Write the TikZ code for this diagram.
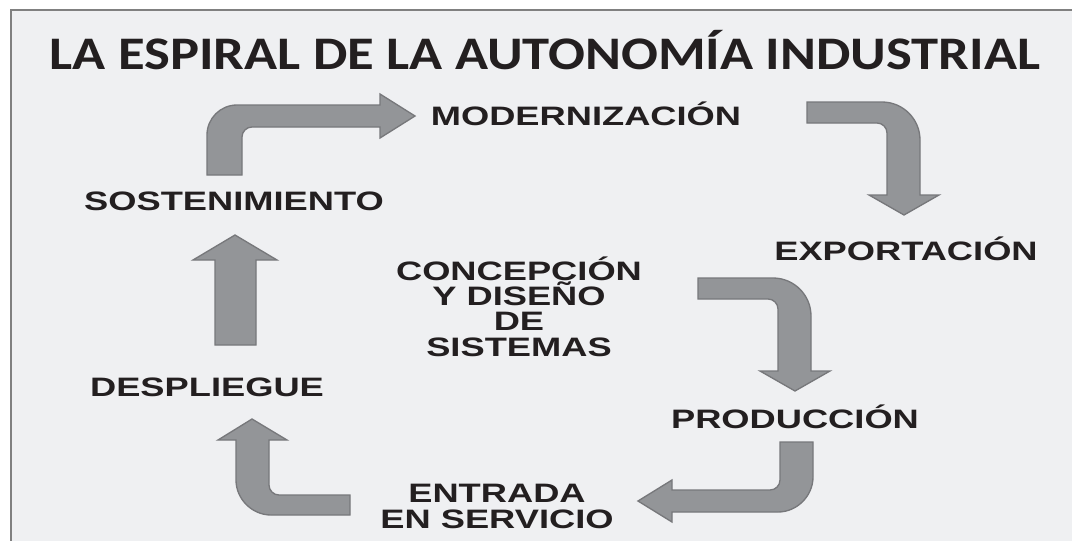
\documentclass[tikz,border=0pt]{standalone}
\usepackage{fontspec}
\setmainfont{Liberation Sans}
\newfontfamily\titlefont[FakeStretch=1.17]{Carlito}
\newfontfamily\stagefont[FakeStretch=1.36]{Liberation Sans}
\usetikzlibrary{positioning}
\definecolor{panelgray}{HTML}{EFF0F2}
\definecolor{framegray}{HTML}{808080}
\definecolor{arrowfill}{HTML}{939598}
\definecolor{arrowline}{HTML}{77787B}
\definecolor{inkblack}{HTML}{231F20}

\begin{document}
\begin{tikzpicture}[x=0.75pt, y=-0.75pt,
    stage/.style={anchor=base, inner sep=0pt, text=inkblack, align=center,
      font=\stagefont\bfseries\fontsize{20}{19}\selectfont},
    heading/.style={anchor=base, inner sep=0pt, text=inkblack,
      font=\titlefont\bfseries\fontsize{35}{40}\selectfont},
    bigarrow/.style={fill=arrowfill, draw=arrowline, line width=1pt, line join=miter}
  ]
  \clip (0,0) rectangle (1072,540);
  % panel
  \fill[panelgray] (11,10) rectangle (1080,550);
  \draw[framegray, line width=1.5pt] (11,550) -- (11,10) -- (1080,10);

  % labels
  \node[heading] (title) at (545,69) {LA ESPIRAL DE LA AUTONOMÍA INDUSTRIAL};
  \node[stage] (modern) at (586,125) {MODERNIZACIÓN};
  \node[stage] (export) at (906,260) {EXPORTACIÓN};
  \node[stage] (sosten) at (234,210) {SOSTENIMIENTO};
  \node[stage] (concep) at (519,356) {CONCEPCIÓN\\Y DISEÑO\\DE\\SISTEMAS};
  \node[stage] (despl) at (207,396) {DESPLIEGUE};
  \node[stage] (produc) at (795,428) {PRODUCCIÓN};
  \node[stage] (entrada) at (497,528) {ENTRADA\\EN SERVICIO};

  % sostenimiento -> modernizacion
  \draw[bigarrow] (207,175) -- (207,135) .. controls (207,118.4) and (220.4,105) .. (237,105)
    -- (380,105) -- (380,94) -- (415,116) -- (380,138) -- (380,127) -- (252,127)
    .. controls (246.5,127) and (242,131.5) .. (242,137) -- (242,175) -- cycle;
  % modernizacion -> exportacion, and the same shape for concepcion -> produccion
  \foreach \dx/\dy in {0/0, -109/176}
    \draw[bigarrow, shift={(\dx,\dy)}] (807,102) -- (882,102) .. controls (903,102) and (920,119) .. (920,140)
      -- (920,195) -- (939,195) -- (904,215) -- (869,195) -- (887,195) -- (887,133)
      .. controls (887,127.5) and (882.5,123) .. (877,123) -- (807,123) -- cycle;
  % produccion -> entrada en servicio
  \draw[bigarrow] (780,442) -- (813,442) -- (813,477) .. controls (813,496) and (797,512) .. (778,512)
    -- (672,512) -- (672,522) -- (638,501) -- (672,480) -- (672,490) -- (770,490)
    .. controls (775.5,490) and (780,485.5) .. (780,480) -- cycle;
  % entrada en servicio -> despliegue
  \draw[bigarrow] (350,495) -- (279,495) .. controls (273.5,495) and (269,490.5) .. (269,485)
    -- (269,440) -- (287,440) -- (252,419) -- (218,440) -- (236,440) -- (236,480)
    .. controls (236,499) and (252,515) .. (271,515) -- (350,515) -- cycle;
  % despliegue -> sostenimiento
  \draw[bigarrow] (215,345) -- (215,260) -- (193,260) -- (235,235) -- (277,260) -- (256,260)
    -- (256,345) -- cycle;
\end{tikzpicture}
\end{document}
